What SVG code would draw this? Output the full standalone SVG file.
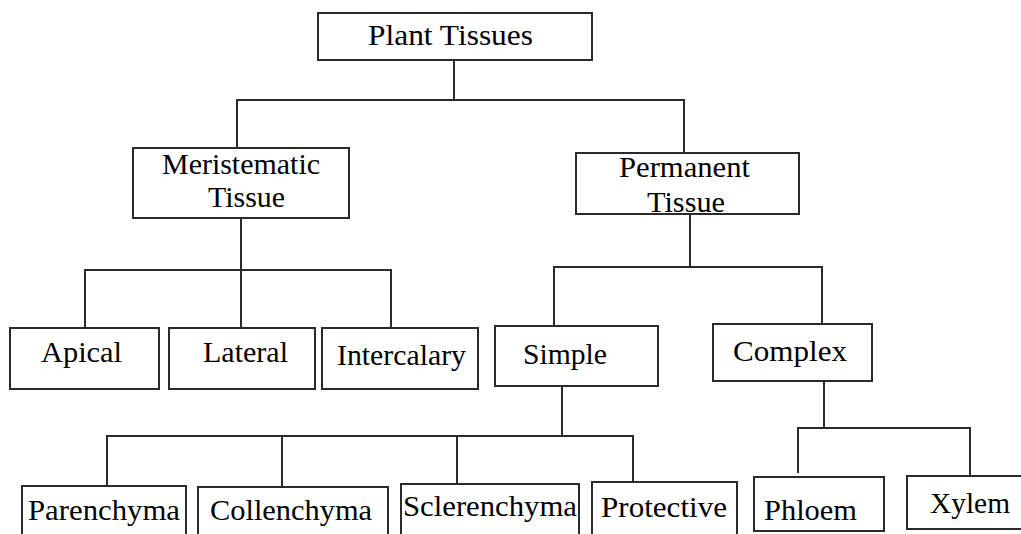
<svg xmlns="http://www.w3.org/2000/svg" width="1021" height="534" viewBox="0 0 1021 534">
<style>
.box{fill:#fff;stroke:#2a2a2a;stroke-width:2}
.t{font-family:"Liberation Serif","Times New Roman",serif;font-size:30px;fill:#000;text-anchor:start}
.c line{stroke:#2a2a2a;stroke-width:2;fill:none}
</style>
<rect width="1021" height="534" fill="#fff"/>
<g class="c" id="connectors">
<line x1="454" y1="60" x2="454" y2="100"/>
<line x1="236" y1="100" x2="685" y2="100"/>
<line x1="237" y1="100" x2="237" y2="148"/>
<line x1="684" y1="100" x2="684" y2="153"/>
<line x1="241" y1="218" x2="241" y2="328"/>
<line x1="84" y1="270" x2="392" y2="270"/>
<line x1="85" y1="270" x2="85" y2="328"/>
<line x1="391" y1="270" x2="391" y2="328"/>
<line x1="690" y1="214" x2="690" y2="267"/>
<line x1="553" y1="267" x2="823" y2="267"/>
<line x1="554" y1="267" x2="554" y2="326"/>
<line x1="822" y1="267" x2="822" y2="327"/>
<line x1="562" y1="386" x2="562" y2="436"/>
<line x1="106" y1="436" x2="634" y2="436"/>
<line x1="107" y1="436" x2="107" y2="488"/>
<line x1="282" y1="436" x2="282" y2="487"/>
<line x1="457" y1="436" x2="457" y2="484"/>
<line x1="633" y1="436" x2="633" y2="482"/>
<line x1="824" y1="381" x2="824" y2="428"/>
<line x1="797" y1="428" x2="971" y2="428"/>
<line x1="798" y1="428" x2="798" y2="473"/>
<line x1="970" y1="428" x2="970" y2="476"/>
</g>
<g id="plant-tissues"><rect class="box" x="318" y="13" width="274" height="47"/><text class="t" x="368" y="45" textLength="165" lengthAdjust="spacingAndGlyphs">Plant Tissues</text></g>
<g id="meristematic"><rect class="box" x="133" y="148" width="216" height="70"/><text class="t" x="162" y="174" textLength="158" lengthAdjust="spacingAndGlyphs">Meristematic</text><text class="t" x="208" y="207" textLength="77" lengthAdjust="spacingAndGlyphs">Tissue</text></g>
<g id="permanent"><rect class="box" x="576" y="153" width="223" height="61"/><text class="t" x="619" y="177" textLength="131" lengthAdjust="spacingAndGlyphs">Permanent</text><text class="t" x="647" y="212" textLength="78" lengthAdjust="spacingAndGlyphs">Tissue</text></g>
<g id="apical"><rect class="box" x="10" y="328" width="149" height="61"/><text class="t" x="41" y="362" textLength="81" lengthAdjust="spacingAndGlyphs">Apical</text></g>
<g id="lateral"><rect class="box" x="169" y="328" width="146" height="61"/><text class="t" x="203" y="362" textLength="85" lengthAdjust="spacingAndGlyphs">Lateral</text></g>
<g id="intercalary"><rect class="box" x="322" y="328" width="156" height="61"/><text class="t" x="337" y="365" textLength="129" lengthAdjust="spacingAndGlyphs">Intercalary</text></g>
<g id="simple"><rect class="box" x="495" y="326" width="163" height="60"/><text class="t" x="523" y="364" textLength="84" lengthAdjust="spacingAndGlyphs">Simple</text></g>
<g id="complex"><rect class="box" x="713" y="324" width="159" height="57"/><text class="t" x="733" y="361" textLength="114" lengthAdjust="spacingAndGlyphs">Complex</text></g>
<g id="parenchyma"><rect class="box" x="22" y="486" width="164" height="60"/><text class="t" x="28" y="520" textLength="152" lengthAdjust="spacingAndGlyphs">Parenchyma</text></g>
<g id="collenchyma"><rect class="box" x="198" y="487" width="190" height="60"/><text class="t" x="210" y="520" textLength="162" lengthAdjust="spacingAndGlyphs">Collenchyma</text></g>
<g id="sclerenchyma"><rect class="box" x="401" y="484" width="178" height="60"/><text class="t" x="403" y="516" textLength="174" lengthAdjust="spacingAndGlyphs">Sclerenchyma</text></g>
<g id="protective"><rect class="box" x="592" y="482" width="145" height="60"/><text class="t" x="601" y="517" textLength="126" lengthAdjust="spacingAndGlyphs">Protective</text></g>
<g id="phloem"><rect class="box" x="754" y="477" width="130" height="54"/><text class="t" x="764" y="520" textLength="93" lengthAdjust="spacingAndGlyphs">Phloem</text></g>
<g id="xylem"><rect class="box" x="907" y="476" width="120" height="53"/><text class="t" x="930" y="513" textLength="80" lengthAdjust="spacingAndGlyphs">Xylem</text></g>
</svg>
